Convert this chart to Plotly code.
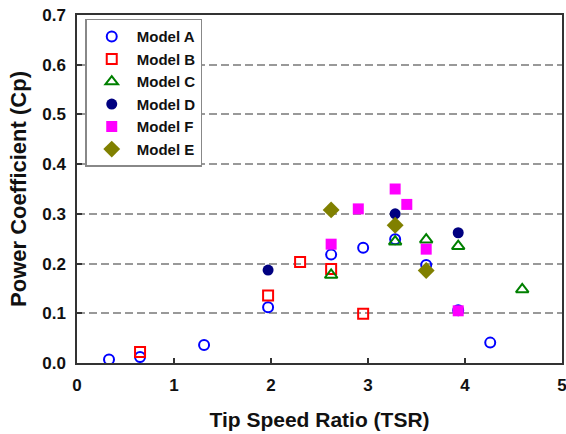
import plotly.graph_objects as go

# ---- data ----
a_x = [0.33, 0.65, 1.31, 1.97, 2.62, 2.95, 3.28, 3.60, 3.93, 4.26]
a_y = [0.007, 0.012, 0.036, 0.112, 0.218, 0.232, 0.249, 0.197, 0.106, 0.041]

b_x = [0.65, 1.97, 2.30, 2.62, 2.95]
b_y = [0.022, 0.136, 0.203, 0.189, 0.099]

c_x = [2.62, 3.28, 3.60, 3.93, 4.59]
c_y = [0.177, 0.244, 0.248, 0.235, 0.148]

d_x = [1.97, 3.28, 3.93]
d_y = [0.187, 0.300, 0.262]

f_x = [2.62, 2.90, 3.28, 3.40, 3.60, 3.93]
f_y = [0.239, 0.310, 0.350, 0.319, 0.229, 0.105]

e_x = [2.62, 3.28, 3.60]
e_y = [0.308, 0.277, 0.186]

x_ticks = [0, 1, 2, 3, 4, 5]
y_ticks = [0.0, 0.1, 0.2, 0.3, 0.4, 0.5, 0.6, 0.7]

FONT = "Liberation Sans, Arial, sans-serif"

fig = go.Figure()
fig.add_trace(go.Scatter(x=a_x, y=a_y, mode="markers", name="<b>Model A</b>",
    marker=dict(symbol="circle-open", size=10, color="#0000FF", line=dict(width=2, color="#0000FF"))))
fig.add_trace(go.Scatter(x=b_x, y=b_y, mode="markers", name="<b>Model B</b>",
    marker=dict(symbol="square-open", size=10, color="#FF0000", line=dict(width=2, color="#FF0000"))))
fig.add_trace(go.Scatter(x=c_x, y=c_y, mode="markers", name="<b>Model C</b>",
    marker=dict(symbol="triangle-up-open", size=11, color="#008000", line=dict(width=2, color="#008000"))))
fig.add_trace(go.Scatter(x=d_x, y=d_y, mode="markers", name="<b>Model D</b>",
    marker=dict(symbol="circle", size=11, color="#000080", line=dict(width=0))))
fig.add_trace(go.Scatter(x=f_x, y=f_y, mode="markers", name="<b>Model F</b>",
    marker=dict(symbol="square", size=11, color="#FF00FF", line=dict(width=0))))
fig.add_trace(go.Scatter(x=e_x, y=e_y, mode="markers", name="<b>Model E</b>",
    marker=dict(symbol="diamond", size=13, color="#808000", line=dict(width=0))))

fig.update_layout(
    width=566, height=434,
    margin=dict(l=77, r=4, t=15, b=71),
    paper_bgcolor="white", plot_bgcolor="white",
    font=dict(family=FONT, color="#000000"),
    legend=dict(x=0.017, y=0.989, xanchor="left", yanchor="top",
                bgcolor="white", bordercolor="#888888", borderwidth=1.5,
                font=dict(family=FONT, size=15, color="#111111"),
                itemwidth=40),
    showlegend=True,
)
fig.update_xaxes(range=[0, 5], tickvals=x_ticks, ticktext=[str(v) for v in x_ticks],
    automargin=False, ticklabeloverflow="allow",
    showgrid=False, zeroline=False, showline=True, mirror=True,
    linecolor="#333333", linewidth=1.5, ticks="inside", ticklen=5, tickwidth=1.5, tickcolor="#333333",
    tickfont=dict(family=FONT, size=17, color="#111111", weight="bold"),
    ticklabelstandoff=6,
    title=dict(text="<b>Tip Speed Ratio (TSR)</b>", font=dict(family=FONT, size=21, color="#111111"), standoff=18))
fig.update_yaxes(range=[0, 0.7], tickvals=y_ticks, ticktext=[f"{v:.1f}" for v in y_ticks],
    automargin=False, ticklabeloverflow="allow",
    showgrid=True, gridcolor="#999999", gridwidth=1.5, griddash="8px,4px",
    zeroline=False, showline=True, mirror=True,
    linecolor="#333333", linewidth=1.5, ticks="inside", ticklen=5, tickwidth=1.5, tickcolor="#333333",
    tickfont=dict(family=FONT, size=17, color="#111111", weight="bold"),
    ticklabelstandoff=6,
    title=dict(text="<b>Power Coefficient (Cp)</b>", font=dict(family=FONT, size=22, color="#111111"), standoff=10))

fig.write_html("out.html", config={"displayModeBar": False},
               post_script="document.body.style.margin='0';")
